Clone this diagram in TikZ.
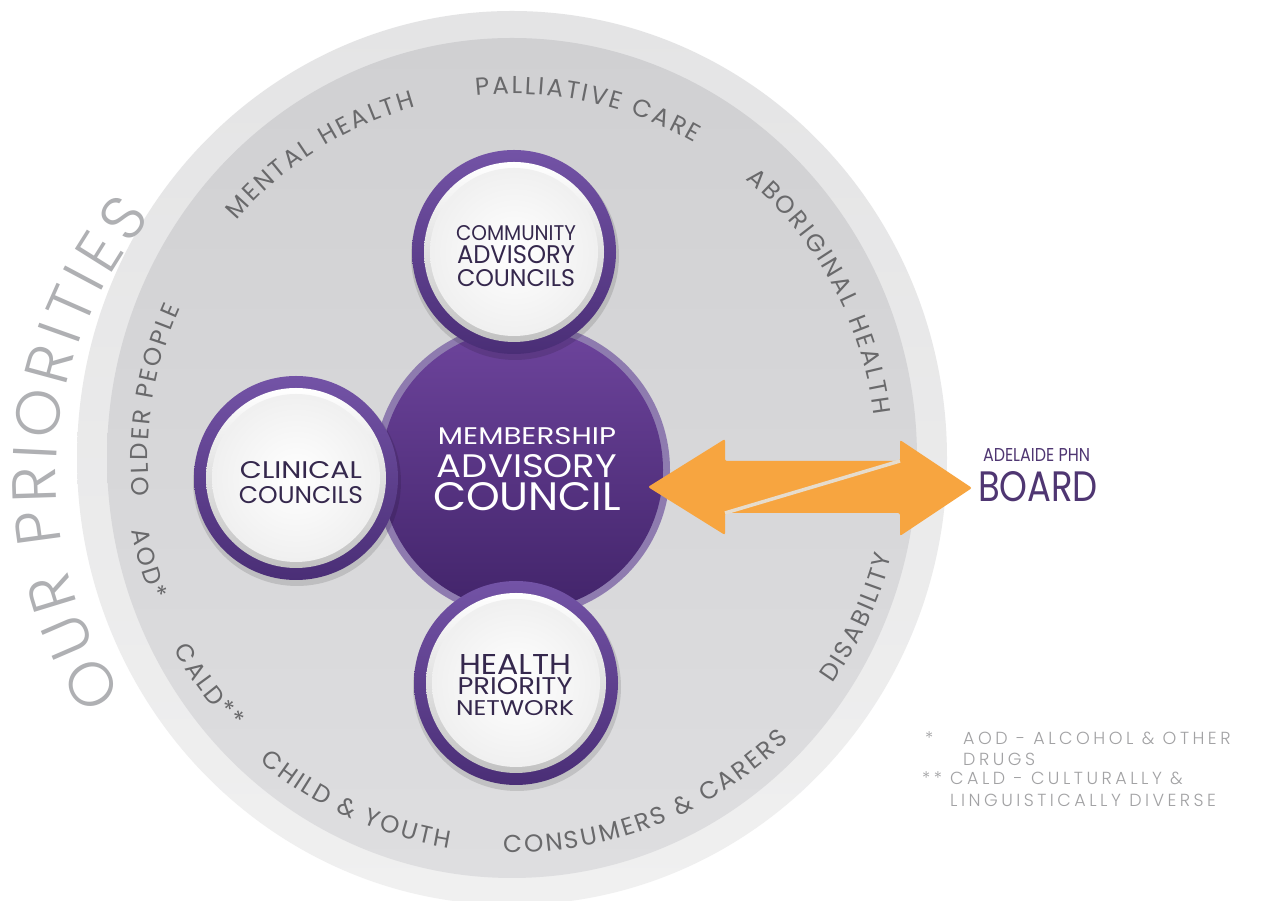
\documentclass[tikz,border=0pt]{standalone}
\usepackage{fontspec}
\setmainfont{Poppins}
\usepackage{graphicx}
\usetikzlibrary{decorations.text}
\IfFontExistsTF{Poppins Light}
  {\newfontfamily\ourfam{Poppins Light}
   \newfontfamily\notefam{Poppins Light}[LetterSpace=20]}
  {\newfontfamily\ourfam{Poppins}
   \newfontfamily\notefam{Poppins}[LetterSpace=20]}
\newfontfamily\priofam{Poppins}
\definecolor{ringouttop}{HTML}{E4E4E5}
\definecolor{ringoutbot}{HTML}{F0F0F0}
\definecolor{ringintop}{HTML}{D0D0D2}
\definecolor{ringinbot}{HTML}{DEDEE0}
\definecolor{prio}{HTML}{69696B}
\definecolor{ourp}{HTML}{AFB0B3}
\definecolor{purptop}{HTML}{6D449C}
\definecolor{purpbot}{HTML}{42246A}
\definecolor{rim}{HTML}{8E7BAF}
\definecolor{ringp}{HTML}{7353A6}
\definecolor{ringpd}{HTML}{4A2E76}
\definecolor{labeltext}{HTML}{35284D}
\definecolor{orng}{HTML}{F7A540}
\definecolor{orngline}{HTML}{E6DCCD}
\definecolor{boardc}{HTML}{4F3672}
\definecolor{note}{HTML}{A2A2A4}
\newcommand{\fitbox}[3]{\resizebox{#1pt}{#2pt}{#3}}
\newcommand{\priofont}{\priofam\fontsize{24.5}{24.5}\selectfont}
\newcommand{\ourfont}{\ourfam\fontsize{62}{62}\selectfont}
% clockwise arc text, letters upright outward, baseline radius 364
\newcommand{\outtext}[2]{\path[shift={(512,443)}, decorate,
  decoration={text along path, text align=center,
  text={|\color{prio}\priofont\kern2.5pt|#2}}] (#1+70:364) arc[start angle=#1+70, end angle=#1-70, radius=364];}
% counter-clockwise arc text, letters upright inward, baseline radius #2
\newcommand{\intext}[3]{\path[shift={(512,443)}, decorate,
  decoration={text along path, text align=center,
  text={|\color{prio}\priofont\kern2.5pt|#3}}] (#1-70:#2) arc[start angle=#1-70, end angle=#1+70, radius=#2];}
\newcommand{\bubble}[1]{%
  \begin{scope}[shift={#1}]
    \fill[black, opacity=0.12] (1,-4) circle[radius=104];
    \shade[top color=ringp, bottom color=ringpd] (0,0) circle[radius=102];
    \shade[shading angle=45, top color=white, bottom color=black!24] (0,0) circle[radius=90];
    \shade[inner color=white, outer color=black!6] (0,0) circle[radius=84];
  \end{scope}}
\begin{document}
\begin{tikzpicture}[x=1pt,y=1pt,
  lbl/.style={align=center, inner sep=0pt, text=labeltext},
  notelbl/.style={anchor=base west, inner sep=0pt, text=note, font=\notefam\fontsize{17.5}{17.5}\selectfont}]
\useasboundingbox (0,0) rectangle (1264,901);
\fill[white] (0,0) rectangle (1264,901);
% priority rings
\shade[top color=ringouttop, bottom color=ringoutbot] (512,443) ellipse[x radius=435, y radius=447];
\shade[top color=ringintop, bottom color=ringinbot] (512,443) ellipse[x radius=405, y radius=420];
% big title
\path[shift={(450,426)}, decorate, decoration={text along path, text align=center,
  text={|\color{ourp}\ourfont\kern5.5pt|OUR PRIORITIES}}] (229.4:394) arc[start angle=229.4, end angle=124.6, radius=394];
% priorities, outward
\outtext{78}{PALLIATIVE CARE}
\outtext{122.5}{MENTAL HEALTH}
\outtext{171}{OLDER PEOPLE}
\outtext{28.6}{ABORIGINAL HEALTH}
% priorities, inward
\intext{196}{387}{AOD*}
\intext{216.7}{389}{CALD**}
\intext{245.4}{395}{CHILD {\&} YOUTH}
\intext{291.4}{395}{CONSUMERS {\&} CARERS}
\intext{335}{392}{DISABILITY}
% central council
\fill[rim] (522,431) circle[radius=148];
\shade[top color=purptop, bottom color=purpbot] (522,431) circle[radius=141];
% arrow
\coordinate (tipL) at (648,414);
\coordinate (hLt) at (725,462);
\coordinate (sLt) at (725,440);
\coordinate (sRt) at (900,440);
\coordinate (sLb) at (725,388);
\coordinate (hLb) at (725,366);
\coordinate (hRt) at (900,461);
\coordinate (sRb) at (900,388);
\coordinate (hRb) at (900,365);
\coordinate (tipR) at (972,413);
\fill[orng, rounded corners=2] (tipL) -- (hLt) -- (sLt) -- (sRt) -- (sLb) -- (hLb) -- cycle;
\fill[orng, rounded corners=2] (tipR) -- (hRt) -- (sRt) -- (sLb) -- (sRb) -- (hRb) -- cycle;
\draw[orngline, line width=3.5] (sLb) -- (sRt);
% bubbles
\bubble{(514,649)}
\bubble{(296,423)}
\bubble{(516,218)}
% labels
\node[lbl, font=\fontsize{10}{23}\selectfont] (cac) at (516,645)
  {\fitbox{120}{15}{COMMUNITY}\\\fitbox{118}{18}{ADVISORY}\\\fitbox{118}{17}{COUNCILS}};
\node[lbl, font=\fontsize{10}{25}\selectfont] (cc) at (301,418.5)
  {\fitbox{122}{17}{CLINICAL}\\\fitbox{124}{17}{COUNCILS}};
\node[lbl, font=\fontsize{10}{20.5}\selectfont] (hpn) at (515,216)
  {\fitbox{112}{20}{HEALTH}\\\fitbox{115}{17}{PRIORITY}\\\fitbox{118}{15}{NETWORK}};
\node[lbl, text=white, font=\fontsize{10}{33.25}\selectfont] (mac) at (527,432)
  {\fitbox{178}{17}{MEMBERSHIP}\\\fitbox{180}{23}{ADVISORY}\\\fitbox{188}{28}{COUNCIL}};
% board
\node[anchor=base, inner sep=0pt, text=boardc] (adl) at (1036.5,439) {\fitbox{107}{13}{ADELAIDE PHN}};
\node[anchor=base, inner sep=0pt, text=boardc] (board) at (1038,399) {\fitbox{120}{30}{BOARD}};
% notes
\node[notelbl] (n1s) at (925,156) {*};
\node[notelbl] (n1a) at (963,156) {AOD - ALCOHOL \& OTHER};
\node[notelbl] (n1b) at (963,135) {DRUGS};
\node[notelbl] (n2s) at (922,116) {**};
\node[notelbl] (n2a) at (950,116) {CALD - CULTURALLY \&};
\node[notelbl] (n2b) at (950,94) {LINGUISTICALLY DIVERSE};
\end{tikzpicture}
\end{document}
